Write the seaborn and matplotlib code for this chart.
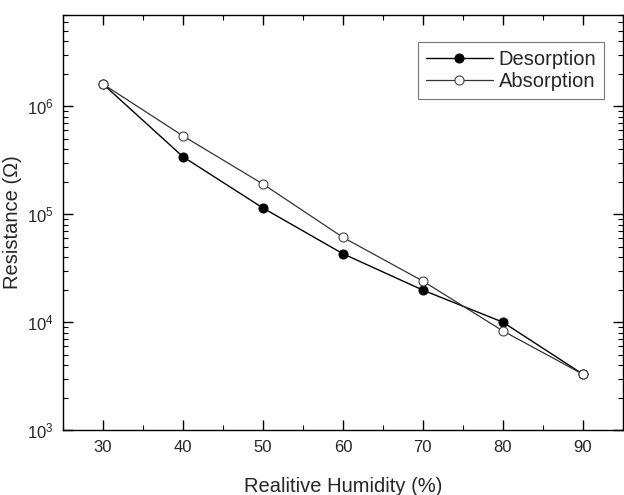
import numpy as np
import pandas as pd
import seaborn as sns
import matplotlib.pyplot as plt
from matplotlib.ticker import LogLocator, MultipleLocator

humidity = [30, 40, 50, 60, 70, 80, 90]
desorption = [1.6e6, 3.4e5, 1.14e5, 4.3e4, 1.98e4, 1.0e4, 3.3e3]
absorption = [1.6e6, 5.3e5, 1.9e5, 6.1e4, 2.4e4, 8.3e3, 3.3e3]

sns.set_style("ticks")
plt.rcParams['font.family'] = ['Liberation Sans', 'DejaVu Sans']

df_d = pd.DataFrame({"rh": humidity, "r": desorption})
df_a = pd.DataFrame({"rh": humidity, "r": absorption})

fig = plt.figure(figsize=(6.24, 4.95), dpi=100)
ax = fig.add_axes([0.101, 0.131, 0.897, 0.839])

sns.lineplot(data=df_d, x="rh", y="r", ax=ax, color="black", lw=1.0,
             marker="o", markersize=6.5, markerfacecolor="black",
             markeredgecolor="black", label="Desorption")
sns.lineplot(data=df_a, x="rh", y="r", ax=ax, color="#333333", lw=0.9,
             marker="o", markersize=6.5, markerfacecolor="white",
             markeredgecolor="#444444", markeredgewidth=0.8, label="Absorption")

ax.set_yscale("log")
ax.set_xlim(25, 95)
ax.set_ylim(1e3, 7e6)
ax.xaxis.set_major_locator(MultipleLocator(10))
ax.xaxis.set_minor_locator(MultipleLocator(5))
ax.yaxis.set_major_locator(LogLocator(base=10, numticks=10))
ax.yaxis.set_minor_locator(LogLocator(base=10, subs=np.arange(2, 10), numticks=20))

for s in ax.spines.values():
    s.set_linewidth(1.0)
    s.set_color("black")
ax.tick_params(which="both", direction="in", top=True, right=True, labelsize=12,
               color="black", pad=7)
ax.tick_params(which="major", length=7, width=1)
ax.tick_params(which="minor", length=3.5, width=0.8)

ax.set_xlabel("Realitive Humidity (%)", fontsize=14.5, labelpad=16)
ax.set_ylabel("Resistance (\u03a9)", fontsize=14.5, labelpad=3)

leg = ax.legend(loc="upper right", bbox_to_anchor=(0.967, 0.935), fontsize=14.5,
                frameon=True, fancybox=False, edgecolor="#555555",
                handlelength=3.3, handletextpad=0.3, borderpad=0.4, labelspacing=0.15,
                borderaxespad=0)
leg.get_frame().set_linewidth(0.8)

fig.savefig("out.png", dpi=100)
